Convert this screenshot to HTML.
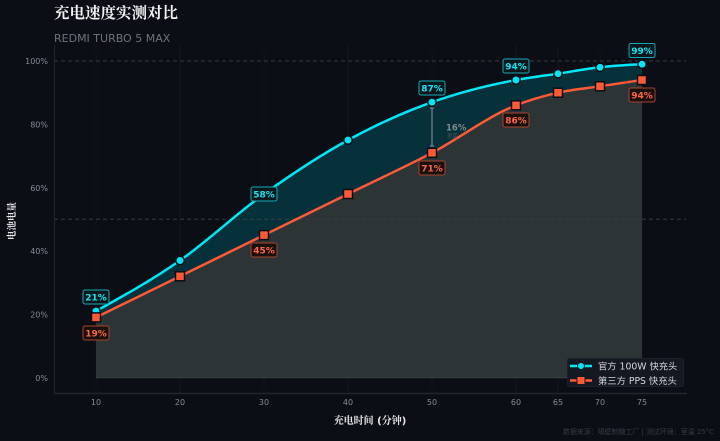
<!DOCTYPE html>
<html><head><meta charset="utf-8"><style>
html,body{margin:0;padding:0;background:#0b0e15;}
svg{display:block;}
</style></head><body>
<svg width="720" height="441" viewBox="0 0 720 441" xmlns="http://www.w3.org/2000/svg">
<rect x="0" y="0" width="720" height="441" fill="#0b0e15"/>
<!-- title -->
<text x="54" y="18" font-family="'Noto Serif CJK SC','Liberation Serif',serif" font-weight="bold" font-size="15.5" fill="#f2f2f2">充电速度实测对比</text>
<text x="54" y="42" font-family="'DejaVu Sans','Liberation Sans',sans-serif" font-size="11" fill="#6e737b">REDMI TURBO 5 MAX</text>

<!-- vertical faint grid -->
<g stroke="#121720" stroke-width="1">
<line x1="96" y1="45" x2="96" y2="393"/><line x1="180" y1="45" x2="180" y2="393"/>
<line x1="264" y1="45" x2="264" y2="393"/><line x1="348" y1="45" x2="348" y2="393"/>
<line x1="432" y1="45" x2="432" y2="393"/><line x1="516" y1="45" x2="516" y2="393"/>
<line x1="558" y1="45" x2="558" y2="393"/><line x1="600" y1="45" x2="600" y2="393"/>
<line x1="642" y1="45" x2="642" y2="393"/>
</g>

<!-- fills -->
<path d="M96,317.4 C124,303.7 152,290.0 180,276.3 C208,262.5 236,248.8 264,235.1 C292,221.4 320,207.7 348,194.0 C376,180.2 404,167.5 432,152.8 C460,138.0 488,116.2 516,105.3 C530,99.8 544,95.8 558,92.7 C572,89.4 586,88.4 600,86.3 C614,84.2 628,82.0 642,80.0 L642,378 L96,378 Z" fill="#2d3436"/>
<line x1="96" y1="377.8" x2="642" y2="377.8" stroke="#3a4244" stroke-width="1"/>
<path d="M96,311.1 C124,295.5 152,280.0 180,260.5 C208,240.9 236,214.0 264,194.0 C292,173.9 320,155.4 348,140.1 C376,124.8 404,112.1 432,102.2 C460,92.1 488,85.2 516,80.0 C530,77.3 544,75.7 558,73.7 C572,71.5 586,68.8 600,67.3 C614,65.7 628,64.9 642,64.2 L642,80.0 C628,82.0 614,84.2 600,86.3 C586,88.4 572,89.4 558,92.7 C544,95.8 530,99.8 516,105.3 C488,116.2 460,138.0 432,152.8 C404,167.5 376,180.2 348,194.0 C320,207.7 292,221.4 264,235.1 C236,248.8 208,262.5 180,276.3 C152,290.0 124,303.7 96,317.4 Z" fill="#07313a"/>

<!-- dashed grid -->
<g stroke="#363c45" stroke-width="1" stroke-dasharray="4,3">
<line x1="54" y1="61" x2="686" y2="61"/>
<line x1="54" y1="219.3" x2="686" y2="219.3"/>
</g>

<!-- axes -->
<line x1="54.5" y1="45" x2="54.5" y2="393" stroke="#20252e" stroke-width="1"/>
<line x1="54" y1="393.5" x2="687" y2="393.5" stroke="#20252e" stroke-width="1.5"/>

<!-- y tick labels -->
<g font-family="'DejaVu Sans','Liberation Sans',sans-serif" font-size="8" fill="#868b94" text-anchor="end">
<text x="48" y="64">100%</text>
<text x="48" y="127.6">80%</text>
<text x="48" y="190.9">60%</text>
<text x="48" y="254.2">40%</text>
<text x="48" y="317.5">20%</text>
<text x="48" y="380.8">0%</text>
</g>
<!-- x tick labels -->
<g font-family="'DejaVu Sans','Liberation Sans',sans-serif" font-size="8" fill="#868b94" text-anchor="middle">
<text x="96" y="405">10</text><text x="180" y="405">20</text><text x="264" y="405">30</text>
<text x="348" y="405">40</text><text x="432" y="405">50</text><text x="516" y="405">60</text>
<text x="558" y="405">65</text><text x="600" y="405">70</text><text x="642" y="405">75</text>
</g>

<!-- axis titles -->
<text x="370" y="424" text-anchor="middle" font-family="'DejaVu Sans','Noto Serif CJK SC',serif" font-weight="bold" font-size="10" fill="#e8e8e8">充电时间 (分钟)</text>
<text transform="translate(15,221) rotate(-90)" text-anchor="middle" font-family="'Noto Serif CJK SC',serif" font-weight="bold" font-size="9.5" fill="#e8e8e8">电池电量</text>

<!-- lines -->
<path d="M96,317.4 C124,303.7 152,290.0 180,276.3 C208,262.5 236,248.8 264,235.1 C292,221.4 320,207.7 348,194.0 C376,180.2 404,167.5 432,152.8 C460,138.0 488,116.2 516,105.3 C530,99.8 544,95.8 558,92.7 C572,89.4 586,88.4 600,86.3 C614,84.2 628,82.0 642,80.0" fill="none" stroke="#ff5a36" stroke-width="2.5"/>
<path d="M96,311.1 C124,295.5 152,280.0 180,260.5 C208,240.9 236,214.0 264,194.0 C292,173.9 320,155.4 348,140.1 C376,124.8 404,112.1 432,102.2 C460,92.1 488,85.2 516,80.0 C530,77.3 544,75.7 558,73.7 C572,71.5 586,68.8 600,67.3 C614,65.7 628,64.9 642,64.2" fill="none" stroke="#00e8f8" stroke-width="2.5"/>

<!-- annotation at 50 -->
<g stroke="#7d858c" stroke-width="1.2">
<line x1="432" y1="108" x2="432" y2="146"/>
<line x1="430" y1="108" x2="434" y2="108"/>
<line x1="430" y1="146" x2="434" y2="146"/>
</g>
<text x="446" y="130.5" font-family="'DejaVu Sans',sans-serif" font-weight="bold" font-size="8.5" fill="#7f898f">16%</text>
<text x="447" y="138" font-family="'Noto Sans CJK SC',sans-serif" font-size="5.5" fill="#4a535a">差距</text>

<!-- markers cyan -->
<g fill="#00e8f8" stroke="#0b0e15" stroke-width="1.5">
<circle cx="96" cy="311.1" r="4.2"/><circle cx="180" cy="260.5" r="4.2"/><circle cx="264" cy="194.0" r="4.2"/>
<circle cx="348" cy="140.1" r="4.2"/><circle cx="432" cy="102.2" r="4.2"/><circle cx="516" cy="80.0" r="4.2"/>
<circle cx="558" cy="73.7" r="4.2"/><circle cx="600" cy="67.3" r="4.2"/><circle cx="642" cy="64.2" r="4.2"/>
</g>
<!-- markers orange -->
<g fill="#ff5a36" stroke="#0b0e15" stroke-width="1.5">
<rect x="91.5" y="312.9" width="9" height="9"/><rect x="175.5" y="271.8" width="9" height="9"/>
<rect x="259.5" y="230.6" width="9" height="9"/><rect x="343.5" y="189.5" width="9" height="9"/>
<rect x="427.5" y="148.3" width="9" height="9"/><rect x="511.5" y="100.8" width="9" height="9"/>
<rect x="553.5" y="88.2" width="9" height="9"/><rect x="595.5" y="81.8" width="9" height="9"/>
<rect x="637.5" y="75.5" width="9" height="9"/>
</g>

<!-- cyan labels -->
<g font-family="'DejaVu Sans',sans-serif" font-weight="bold" font-size="9" text-anchor="middle">
<g fill="#0c171c" stroke="#11a9b8" stroke-width="1">
<rect x="83" y="290" width="26" height="14" rx="2"/>
<rect x="251" y="187" width="26" height="14" rx="2"/>
<rect x="419" y="81" width="26" height="14" rx="2"/>
<rect x="503" y="59" width="26" height="14" rx="2"/>
<rect x="629" y="43.5" width="26" height="14" rx="2"/>
</g>
<g fill="#12e6f5">
<text x="96" y="300.3">21%</text>
<text x="264" y="197.3">58%</text>
<text x="432" y="91.3">87%</text>
<text x="516" y="69.3">94%</text>
<text x="642" y="53.8">99%</text>
</g>
<g fill="#1a1010" stroke="#a8432e" stroke-width="1">
<rect x="83" y="326" width="26" height="14" rx="2"/>
<rect x="251" y="243" width="26" height="14" rx="2"/>
<rect x="419" y="161" width="26" height="14" rx="2"/>
<rect x="503" y="113" width="26" height="14" rx="2"/>
<rect x="629" y="88" width="26" height="14" rx="2"/>
</g>
<g fill="#ff6640">
<text x="96" y="336.3">19%</text>
<text x="264" y="253.3">45%</text>
<text x="432" y="171.3">71%</text>
<text x="516" y="123.3">86%</text>
<text x="642" y="98.3">94%</text>
</g>
</g>

<!-- legend -->
<rect x="567.5" y="358.5" width="116" height="28" rx="2" fill="#131821" stroke="#1b212a" stroke-width="1"/>
<line x1="570" y1="366" x2="592" y2="366" stroke="#00e8f8" stroke-width="2.5"/>
<circle cx="581" cy="366" r="3.5" fill="#00e8f8" stroke="#131821" stroke-width="1"/>
<line x1="570" y1="380.5" x2="592" y2="380.5" stroke="#ff5a36" stroke-width="2.5"/>
<rect x="577" y="376.5" width="8" height="8" fill="#ff5a36" stroke="#131821" stroke-width="1"/>
<g font-family="'DejaVu Sans','Noto Sans CJK SC',sans-serif" font-size="9.3" fill="#d2d6dc">
<text x="598" y="369.5">官方 100W 快充头</text>
<text x="598" y="384">第三方 PPS 快充头</text>
</g>

<!-- footer -->
<text x="714" y="434" text-anchor="end" font-family="'DejaVu Sans','Noto Sans CJK SC',sans-serif" font-size="6.8" fill="#363c45" textLength="151" lengthAdjust="spacingAndGlyphs">数据来源：隔壁制糖工厂 | 测试环境：室温 25°C</text>
</svg>
</body></html>
